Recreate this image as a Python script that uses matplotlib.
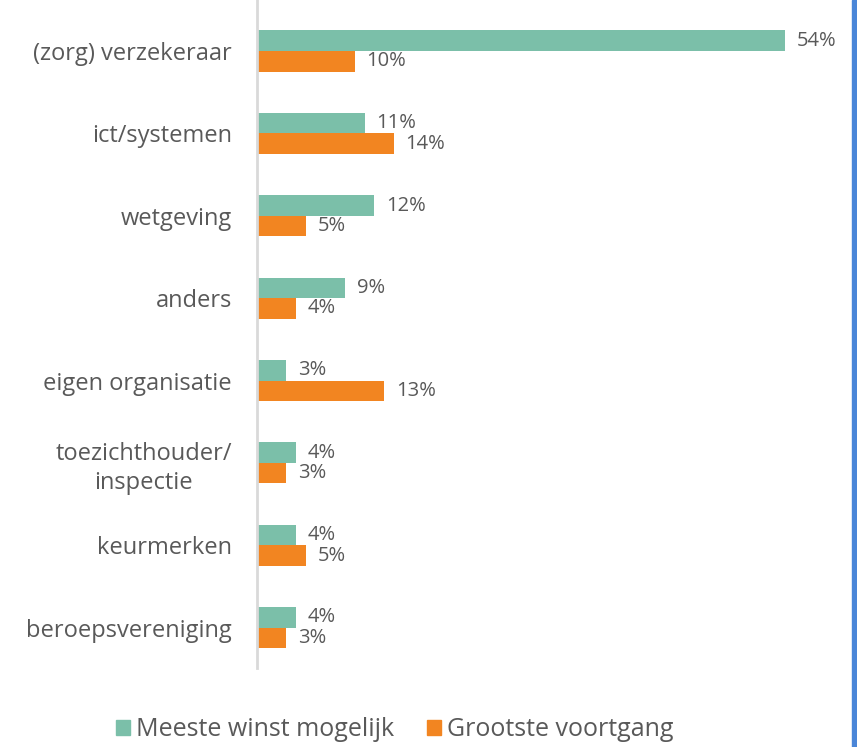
import matplotlib.pyplot as plt
from matplotlib.patches import Rectangle
import numpy as np

plt.rcParams['font.family'] = ['Open Sans', 'DejaVu Sans']

categories = ["(zorg) verzekeraar", "ict/systemen", "wetgeving", "anders",
              "eigen organisatie", "toezichthouder/\ninspectie", "keurmerken",
              "beroepsvereniging"]
meeste_winst = [54, 11, 12, 9, 3, 4, 4, 4]
grootste_voortgang = [10, 14, 5, 4, 13, 3, 5, 3]
series_names = ["Meeste winst mogelijk", "Grootste voortgang"]

teal = "#7BBFA9"
orange = "#F28521"
text_gray = "#595959"

fig = plt.figure(figsize=(8.57, 7.47), dpi=100)
W, H = 857, 747
ax = fig.add_axes([257 / W, 1 - 668 / H, (845 - 257) / W, 668 / H])

y = np.arange(len(categories))
h = 0.25
b1 = ax.barh(y - h / 2, meeste_winst, height=h, color=teal, label=series_names[0])
b2 = ax.barh(y + h / 2, grootste_voortgang, height=h, color=orange, label=series_names[1])

for bars, vals in ((b1, meeste_winst), (b2, grootste_voortgang)):
    for rect, v in zip(bars, vals):
        ax.text(rect.get_width() + 1.2, rect.get_y() + rect.get_height() / 2,
                f"{v}%", va="center", ha="left", fontsize=14.5, color=text_gray)

ax.set_xlim(0, (845 - 257) / 9.78)
ax.set_ylim(len(categories) - 1 + 0.49, -0.62)
ax.set_yticks(y)
ax.set_yticklabels(categories, fontsize=17, color=text_gray, linespacing=1.3)
for lbl in ax.get_yticklabels():
    lbl.set_multialignment("center")
ax.tick_params(axis="y", length=0, pad=18)
ax.set_xticks([])
for s in ("top", "right", "bottom"):
    ax.spines[s].set_visible(False)
ax.spines["left"].set_color("#D9D9D9")
ax.spines["left"].set_linewidth(2)

handles = [Rectangle((0, 0), 1, 1, color=teal), Rectangle((0, 0), 1, 1, color=orange)]
fig.legend(handles, series_names, loc="center", bbox_to_anchor=(395 / W, 1 - 730 / H),
           ncol=2, frameon=False, fontsize=18, labelcolor=text_gray,
           handlelength=0.55, handleheight=0.55, handletextpad=0.25, columnspacing=1.3)

fig.patches.append(Rectangle((852 / W, 0), 5 / W, 1, transform=fig.transFigure,
                             color="#4A86D8", zorder=10))

fig.savefig("out.png", dpi=100)
